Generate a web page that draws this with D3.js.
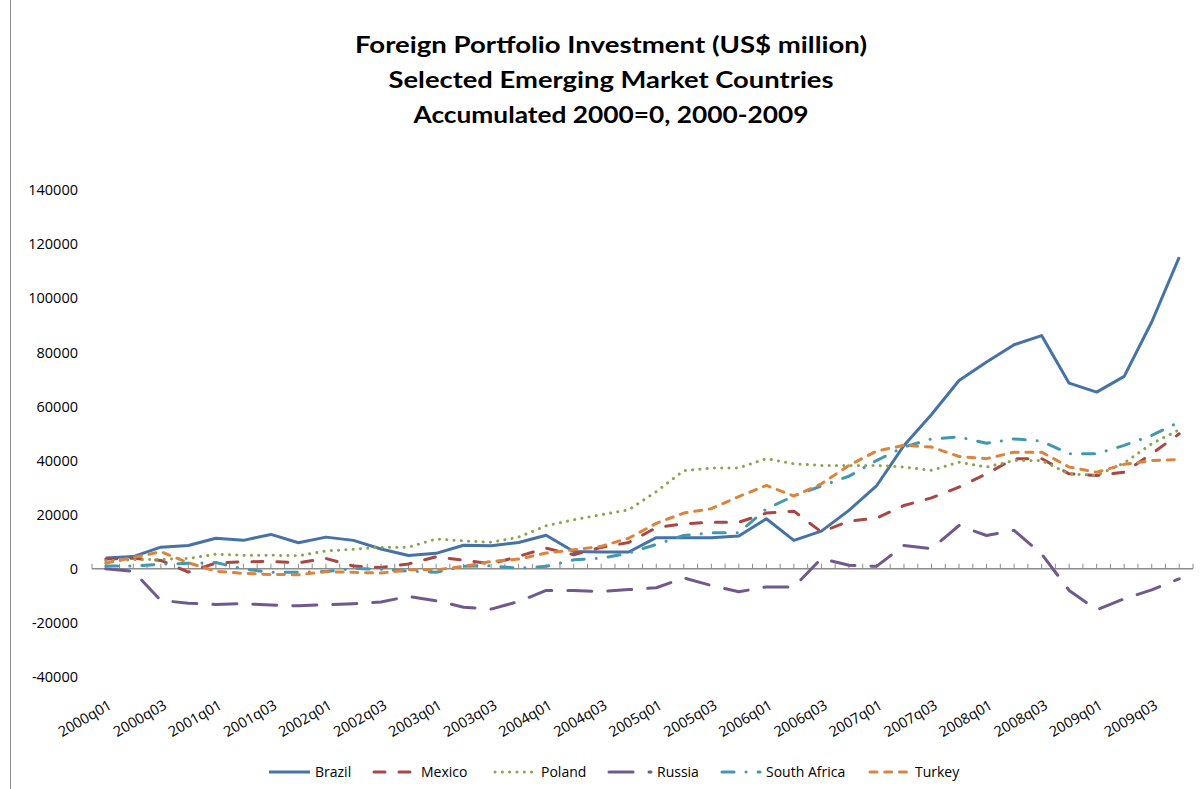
<!DOCTYPE html>
<html>
<head>
<meta charset="utf-8">
<script src="https://cdn.jsdelivr.net/npm/d3@7/dist/d3.min.js"></script>
<style>
  html, body { margin: 0; padding: 0; background: #fff; }
  svg { display: block; }
</style>
</head>
<body>
<svg id="chart" width="1204" height="789"></svg>
<script>
// ---------- DATA ----------
const quarters = [
  "2000q01","2000q02","2000q03","2000q04",
  "2001q01","2001q02","2001q03","2001q04",
  "2002q01","2002q02","2002q03","2002q04",
  "2003q01","2003q02","2003q03","2003q04",
  "2004q01","2004q02","2004q03","2004q04",
  "2005q01","2005q02","2005q03","2005q04",
  "2006q01","2006q02","2006q03","2006q04",
  "2007q01","2007q02","2007q03","2007q04",
  "2008q01","2008q02","2008q03","2008q04",
  "2009q01","2009q02","2009q03","2009q04"
];
const brazil = [4000, 4500, 8000, 8600, 11300, 10500, 12700, 9600, 11700, 10500,
  7300, 4900, 5700, 8700, 8500, 9700, 12400, 6400, 6200, 6200,
  11500, 11500, 11500, 12100, 18500, 10500, 13900, 21600, 30600, 45600,
  57000, 69600, 76400, 82800, 86200, 68600, 65300, 71100, 91200, 115200];
const mexico = [3600, 3900, 3100, -1200, 2100, 2600, 2700, 2200, 3800, 1000,
  500, 1800, 4400, 3200, 1800, 4600, 7600, 5200, 7900, 9700,
  15200, 16600, 17200, 17200, 20600, 21300, 13600, 17600, 18700, 23400,
  26200, 30200, 35100, 40700, 40700, 35100, 34500, 35700, 42500, 49900];
const poland = [3000, 3300, 3500, 3800, 5400, 5000, 5000, 4800, 6600, 7200,
  8000, 8000, 11000, 10300, 9800, 11700, 15900, 18100, 20000, 21800,
  28500, 36300, 37200, 37300, 40700, 38800, 38200, 38200, 38200, 37600,
  36400, 39400, 37600, 40000, 40000, 35100, 34500, 39100, 46200, 51400];
const russia = [0, -900, -11700, -12700, -13200, -12900, -13400, -13700, -13300, -12900,
  -12300, -10200, -11800, -14200, -14900, -12100, -8000, -8000, -8400, -7700,
  -7000, -3400, -6200, -8500, -6700, -6700, 3800, 1300, 900, 8600,
  7400, 16000, 12300, 14200, 5500, -8000, -15200, -11100, -7800, -3700];
const southAfrica = [1000, 1000, 1700, 2000, 2300, -100, -1300, -1300, -1000, 100,
  -200, -900, -1300, 900, 1100, 200, 900, 3300, 3900, 5800,
  9000, 12300, 13300, 13300, 22200, 26900, 30600, 34200, 40000, 45000,
  48000, 48700, 46400, 48000, 47200, 42500, 42500, 45600, 49300, 54200];
const turkey = [2100, 4200, 6300, 2200, -900, -1700, -2100, -2200, -1100, -1300,
  -1600, -400, -400, 900, 2700, 3600, 5800, 7000, 8300, 11300,
  16800, 20600, 22200, 26700, 30800, 26900, 31400, 38200, 43500, 45600,
  45000, 41500, 40700, 43100, 43100, 37600, 35700, 38600, 40000, 40400];
const yTicks = [-40000, -20000, 0, 20000, 40000, 60000, 80000, 100000, 120000, 140000];
const titleLines = [
  "Foreign Portfolio Investment (US$ million)",
  "Selected Emerging Market Countries",
  "Accumulated 2000=0, 2000-2009"
];
const seriesNames = ["Brazil", "Mexico", "Poland", "Russia", "South Africa", "Turkey"];

// ---------- STYLES ----------
const styles = {
  "Brazil":       { color: "#4572A7", dash: null },
  "Mexico":       { color: "#AA4643", dash: "11,14" },
  "Poland":       { color: "#89A54E", dash: "0.1,7.2" },
  "Russia":       { color: "#71588F", dash: "24,16" },
  "South Africa": { color: "#4198AF", dash: "12,12,0.1,12" },
  "Turkey":       { color: "#DB843D", dash: "7,7.7" }
};
const seriesValues = [brazil, mexico, poland, russia, southAfrica, turkey];
const series = seriesNames.map((n, i) => ({ name: n, values: seriesValues[i] }));

const svg = d3.select("#chart");
const FONT = "'Open Sans', 'DejaVu Sans', sans-serif";

// left border
svg.append("line").attr("x1", 10.5).attr("x2", 10.5).attr("y1", 0).attr("y2", 789)
  .attr("stroke", "#8a8a8a").attr("stroke-width", 1);

// scales
const x = d3.scaleBand().domain(quarters).range([92, 1193]).padding(0);
const y = d3.scaleLinear().domain([-40000, 140000]).range([677, 190]);
const cx = q => x(q) + x.bandwidth() / 2;

// title
const titleBase = [53, 88, 123];
const titleWidths = [512, 445, 395];
titleLines.forEach((t, i) => {
  const el = svg.append("text")
    .attr("x", 611).attr("y", titleBase[i])
    .attr("text-anchor", "middle")
    .attr("font-family", "Lato, 'Open Sans', sans-serif")
    .attr("font-weight", "bold")
    .attr("font-size", 23)
    .attr("fill", "#000")
    .text(t);
  const w = el.node().getComputedTextLength();
  if (Math.abs(w - titleWidths[i]) > 4) {
    el.attr("textLength", titleWidths[i]).attr("lengthAdjust", "spacingAndGlyphs");
  }
});

// y axis labels (no line)
svg.append("g").selectAll("text").data(yTicks).join("text")
  .attr("x", 78).attr("y", d => y(d))
  .attr("dy", "0.36em")
  .attr("text-anchor", "end")
  .attr("font-family", FONT).attr("font-size", 14.5).attr("fill", "#000")
  .text(d => d);

// x axis line at zero
const y0 = y(0);
const axisG = svg.append("g");
axisG.append("line")
  .attr("x1", x.range()[0]).attr("x2", x.range()[1])
  .attr("y1", y0).attr("y2", y0)
  .attr("stroke", "#8c8c8c").attr("stroke-width", 1.5);
// ticks at band boundaries and centres
const tickPos = [];
quarters.forEach(q => { tickPos.push(x(q)); tickPos.push(cx(q)); });
tickPos.push(x.range()[1]);
axisG.selectAll("line.tick").data(tickPos).join("line")
  .attr("class", "tick")
  .attr("x1", d => d).attr("x2", d => d)
  .attr("y1", y0 - 5).attr("y2", y0)
  .attr("stroke", "#8c8c8c").attr("stroke-width", 1);

// x labels (every second quarter), at bottom of plot
const labelQ = quarters.filter((q, i) => i % 2 === 0);
svg.append("g").selectAll("text").data(labelQ).join("text")
  .attr("transform", d => `translate(${cx(d) + 7},${708}) rotate(-30)`)
  .attr("text-anchor", "end")
  .attr("font-family", FONT).attr("font-size", 14.5).attr("fill", "#000")
  .text(d => d);

// lines
const lineGen = d3.line()
  .x((d, i) => cx(quarters[i]))
  .y(d => y(d));
svg.append("g").selectAll("path").data(series).join("path")
  .attr("d", d => lineGen(d.values))
  .attr("fill", "none")
  .attr("stroke", d => styles[d.name].color)
  .attr("stroke-width", 3)
  .attr("stroke-linejoin", "round")
  .attr("stroke-linecap", d => styles[d.name].dash ? "round" : "butt")
  .attr("stroke-dasharray", d => styles[d.name].dash);

// legend
const legendPos = {
  "Brazil": [269, 310, 315],
  "Mexico": [374, 416, 421],
  "Poland": [495, 533, 541],
  "Russia": [609, 651, 657],
  "South Africa": [722, 760, 766],
  "Turkey": [870, 910, 915]
};
const leg = svg.append("g");
series.forEach(s => {
  const p = legendPos[s.name];
  leg.append("line")
    .attr("x1", p[0]).attr("x2", p[1]).attr("y1", 772).attr("y2", 772)
    .attr("stroke", styles[s.name].color).attr("stroke-width", 3)
    .attr("stroke-linecap", styles[s.name].dash ? "round" : "butt")
    .attr("stroke-dasharray", styles[s.name].dash);
  leg.append("text")
    .attr("x", p[2]).attr("y", 777)
    .attr("font-family", FONT).attr("font-size", 14).attr("fill", "#000")
    .text(s.name);
});
</script>
</body>
</html>
